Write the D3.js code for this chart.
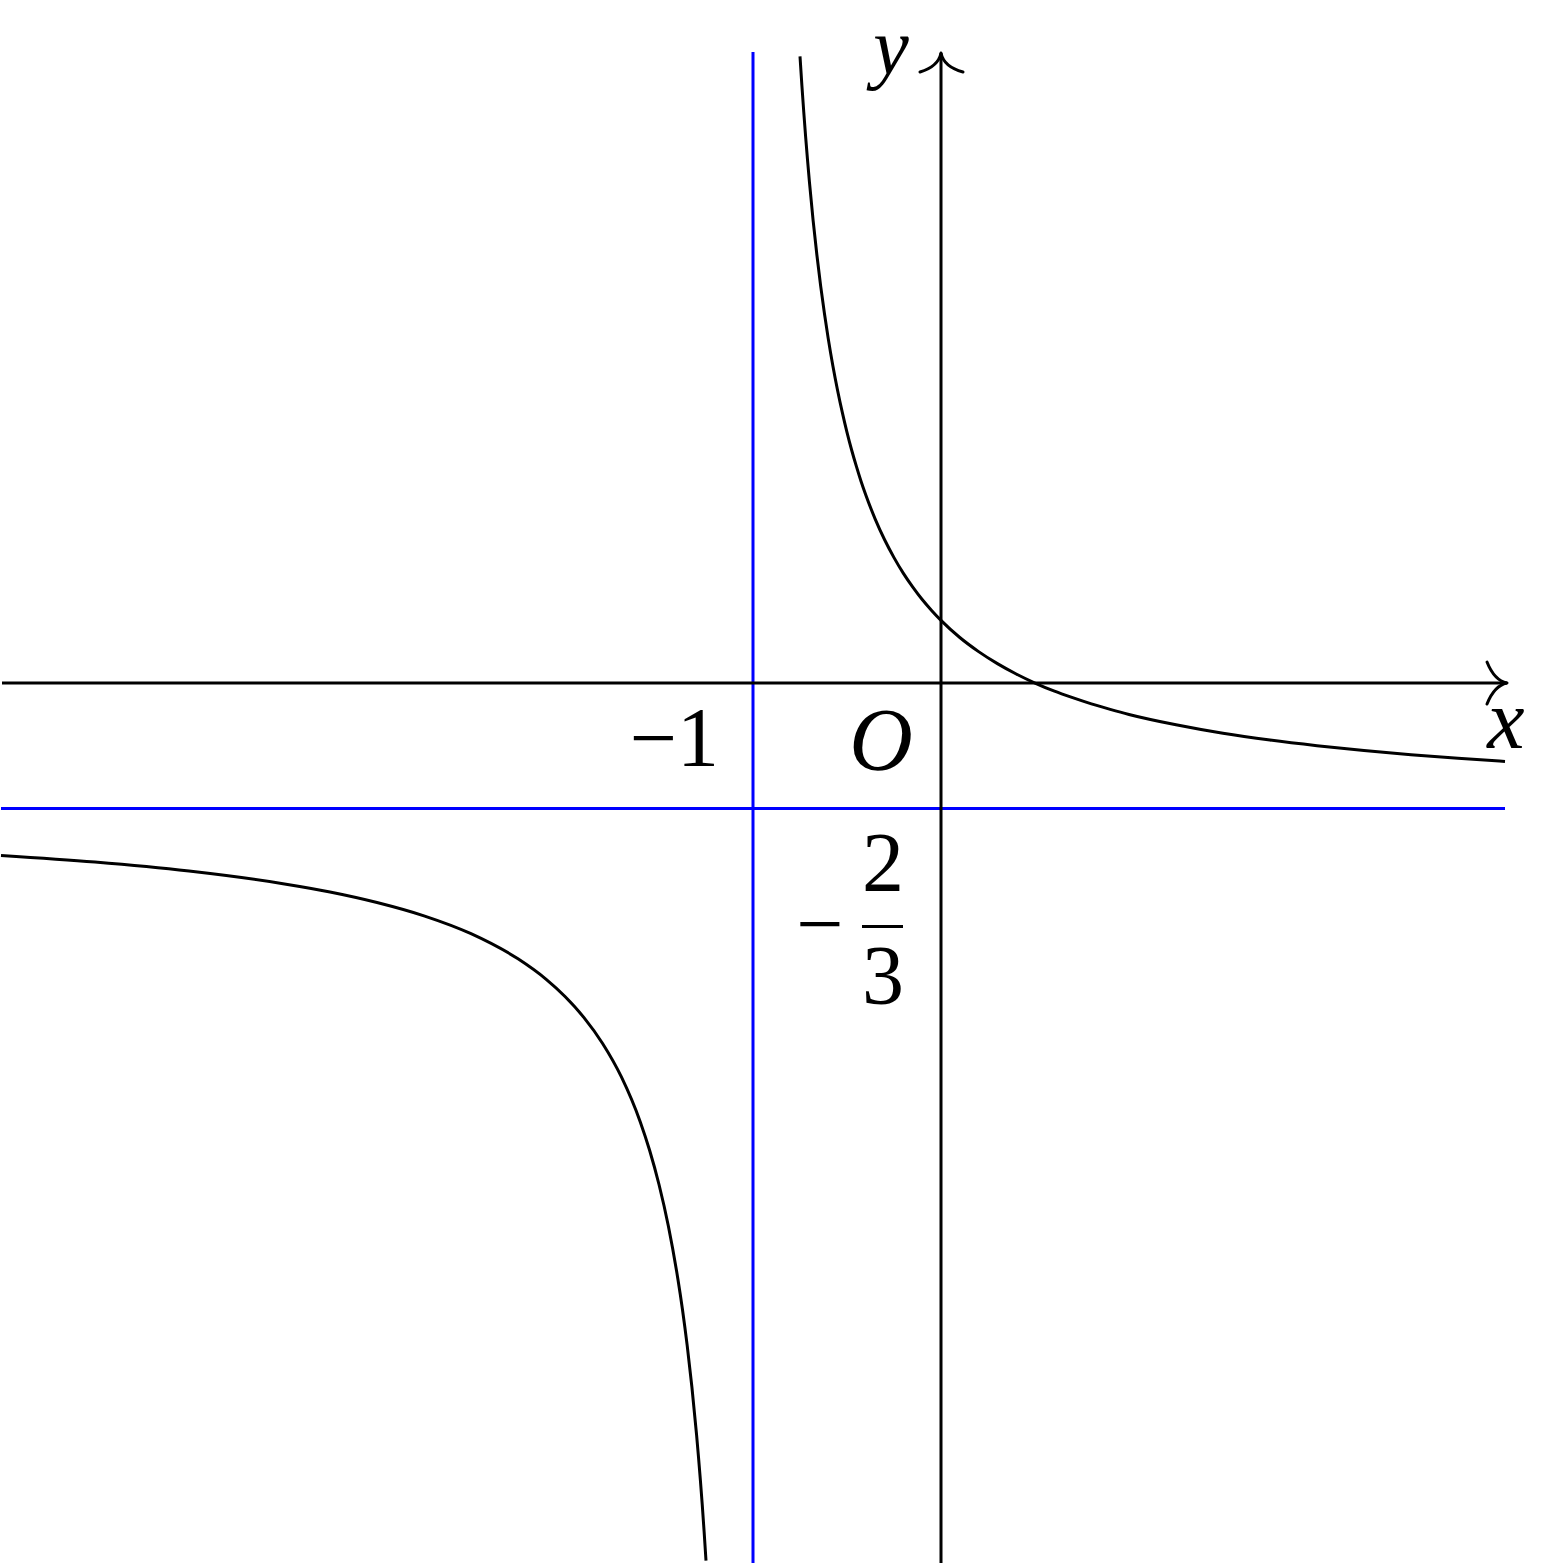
<!DOCTYPE html>
<html>
<head>
<meta charset="utf-8">
<script src="https://cdn.jsdelivr.net/npm/d3@7"></script>
<style>
  body { margin: 0; background: #fff; }
  svg text { font-family: "Liberation Serif", "Times New Roman", Tinos, Times, "DejaVu Serif", serif; fill: #000; }
</style>
</head>
<body>
<svg id="chart" width="1558" height="1566"></svg>
<script>
// branch of the curve right of the vertical asymptote
const rightX = [-0.75, -0.74, -0.73, -0.72, -0.71, -0.7, -0.68, -0.66, -0.64, -0.62, -0.6, -0.575, -0.55, -0.525, -0.5,
                -0.475, -0.45, -0.425, -0.4, -0.35, -0.3, -0.25, -0.2, -0.15, -0.1, -0.05, 0,
                0.1, 0.2, 0.3, 0.4, 0.5, 0.6, 0.7, 0.8, 0.9, 1, 1.25, 1.5, 1.75, 2, 2.25, 2.5, 2.75, 3];
const rightY = [3.333, 3.179, 3.037, 2.905, 2.782, 2.667, 2.458, 2.275, 2.111, 1.965, 1.833, 1.686, 1.556, 1.439, 1.333,
                1.238, 1.152, 1.072, 1.000, 0.872, 0.762, 0.667, 0.583, 0.510, 0.444, 0.386, 0.333,
                0.242, 0.167, 0.103, 0.048, 0.000, -0.042, -0.078, -0.111, -0.140, -0.167, -0.222, -0.267, -0.303, -0.333, -0.359, -0.381, -0.400, -0.417];

// branch left of the asymptote
const leftX = [-5, -4.5, -4, -3.5, -3.25, -3, -2.75, -2.5, -2.25, -2.1, -2, -1.9, -1.8, -1.7, -1.6, -1.55, -1.5,
               -1.45, -1.4, -1.375, -1.35, -1.325, -1.3, -1.29, -1.28, -1.27, -1.26, -1.25];
const leftY = [-0.917, -0.952, -1.000, -1.067, -1.111, -1.167, -1.238, -1.333, -1.467, -1.576, -1.667, -1.778, -1.917, -2.095, -2.333, -2.485, -2.667,
               -2.889, -3.167, -3.333, -3.524, -3.744, -4.000, -4.115, -4.238, -4.370, -4.513, -4.667];

// asymptotes
const vAsym = -1;
const hAsym = -2 / 3;

// axis extents and labels
const xDomain = [-5, 3];
const yDomain = [-4.68, 3.356];
const xTickLabel = "\u22121";
const fracNum = "2", fracDen = "3";

const svg = d3.select("#chart");

const x = d3.scaleLinear().domain(xDomain).range([1, 1505]);
const y = d3.scaleLinear().domain(yDomain).range([1563, 52]);

const lineGen = d3.line()
    .x(d => x(d[0]))
    .y(d => y(d[1]))
    .curve(d3.curveMonotoneX);

// blue asymptotes
svg.append("line")
    .attr("x1", x(vAsym)).attr("x2", x(vAsym))
    .attr("y1", y(yDomain[1])).attr("y2", y(yDomain[0]))
    .attr("stroke", "#0000ff").attr("stroke-width", 3);

svg.append("line")
    .attr("x1", x(xDomain[0])).attr("x2", x(xDomain[1]))
    .attr("y1", y(hAsym)).attr("y2", y(hAsym))
    .attr("stroke", "#0000ff").attr("stroke-width", 3);

// axes
const x0 = x(0), y0 = y(0);
const xTip = x(xDomain[1]) + 2;
const yTip = y(yDomain[1]) + 1;

svg.append("line")
    .attr("x1", x(xDomain[0]) + 1).attr("x2", xTip)
    .attr("y1", y0).attr("y2", y0)
    .attr("stroke", "#000").attr("stroke-width", 3);

svg.append("line")
    .attr("x1", x0).attr("x2", x0)
    .attr("y1", y(yDomain[0])).attr("y2", yTip)
    .attr("stroke", "#000").attr("stroke-width", 3);

// latex style arrow heads
svg.append("path")
    .attr("d", `M${x0 - 21},${yTip + 19} C${x0 - 11},${yTip + 16} ${x0 - 2},${yTip + 10} ${x0},${yTip}
                C${x0 + 2},${yTip + 10} ${x0 + 11},${yTip + 16} ${x0 + 22},${yTip + 19}`)
    .attr("fill", "none").attr("stroke", "#000").attr("stroke-width", 3)
    .attr("stroke-linecap", "round").attr("stroke-linejoin", "round");

svg.append("path")
    .attr("d", `M${xTip - 20},${y0 - 21} C${xTip - 16},${y0 - 11} ${xTip - 10},${y0 - 2} ${xTip},${y0}
                C${xTip - 10},${y0 + 2} ${xTip - 16},${y0 + 11} ${xTip - 20},${y0 + 21}`)
    .attr("fill", "none").attr("stroke", "#000").attr("stroke-width", 3)
    .attr("stroke-linecap", "round").attr("stroke-linejoin", "round");

// the two branches
[[rightX, rightY], [leftX, leftY]].forEach(([xs, ys]) => {
    svg.append("path")
        .datum(xs.map((v, i) => [v, ys[i]]))
        .attr("d", lineGen)
        .attr("fill", "none")
        .attr("stroke", "#000")
        .attr("stroke-width", 3);
});

// labels
const fs = 84;

svg.append("text")
    .attr("x", x0 - 50).attr("y", y(3.356) + 22)
    .attr("text-anchor", "middle")
    .attr("font-size", fs - 4).attr("font-style", "italic")
    .text("y");

svg.append("text")
    .attr("x", xTip - 1).attr("y", y0 + 65)
    .attr("text-anchor", "middle")
    .attr("font-size", fs).attr("font-style", "italic")
    .text("x");

svg.append("text")
    .attr("x", x0 - 60).attr("y", y0 + 86)
    .attr("text-anchor", "middle")
    .attr("font-size", fs + 4).attr("font-style", "italic")
    .text("O");

svg.append("text")
    .attr("x", x(vAsym) - 34).attr("y", y0 + 83)
    .attr("text-anchor", "end")
    .attr("font-size", fs)
    .text(xTickLabel);

// -2/3 fraction
const fy = y(hAsym) + 118;
svg.append("text")
    .attr("x", x0 - 121).attr("y", fy + 26)
    .attr("text-anchor", "middle")
    .attr("font-size", fs)
    .text("\u2212");

svg.append("text")
    .attr("x", x0 - 58).attr("y", fy - 35)
    .attr("text-anchor", "middle")
    .attr("font-size", fs)
    .text(fracNum);

svg.append("text")
    .attr("x", x0 - 58).attr("y", fy + 78)
    .attr("text-anchor", "middle")
    .attr("font-size", fs)
    .text(fracDen);

svg.append("line")
    .attr("x1", x0 - 79).attr("x2", x0 - 38)
    .attr("y1", fy).attr("y2", fy)
    .attr("stroke", "#000").attr("stroke-width", 3);
</script>
</body>
</html>
